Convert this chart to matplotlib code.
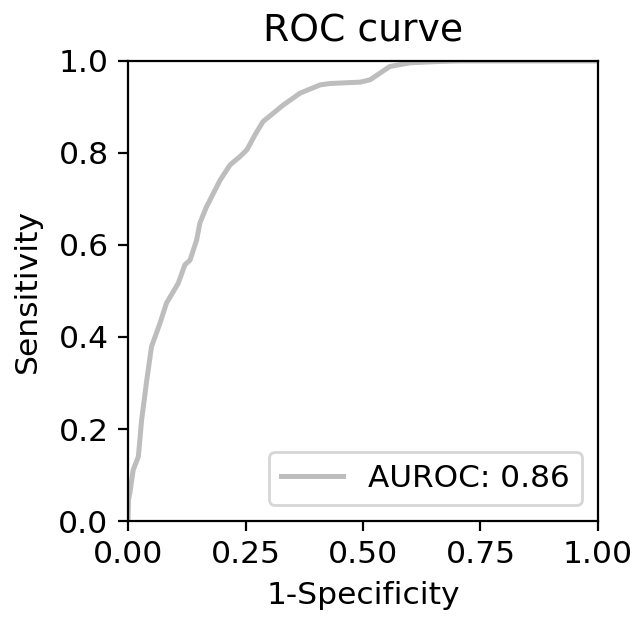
import matplotlib
matplotlib.use("Agg")
import matplotlib.pyplot as plt

# ROC points
fpr = [0.0, 0.001, 0.004, 0.011, 0.022, 0.029, 0.040, 0.050, 0.068, 0.082,
       0.107, 0.121, 0.132, 0.146, 0.153, 0.167, 0.189, 0.196, 0.217, 0.238,
       0.253, 0.270, 0.287, 0.330, 0.366, 0.409, 0.430, 0.494, 0.515, 0.557,
       0.600, 0.664, 0.706, 1.0]
tpr = [0.0, 0.046, 0.061, 0.111, 0.140, 0.220, 0.307, 0.379, 0.430, 0.474,
       0.517, 0.557, 0.567, 0.611, 0.648, 0.683, 0.727, 0.741, 0.774, 0.792,
       0.807, 0.839, 0.868, 0.904, 0.930, 0.948, 0.951, 0.954, 0.959, 0.988,
       0.996, 0.999, 1.0, 1.0]
auroc = 0.86

plt.rcParams["font.size"] = 11.3

fig = plt.figure(figsize=(3.175, 3.095), dpi=200)
ax = fig.add_axes([0.2016, 0.1583, 0.7401, 0.7432])
ax.plot(fpr, tpr, color="#bdbdbd", lw=1.8, label=f"AUROC: {auroc:.2f}")
ax.set_xlim(0, 1)
ax.set_ylim(0, 1)
ax.set_xticks([0, 0.25, 0.5, 0.75, 1.0])
ax.set_yticks([0, 0.2, 0.4, 0.6, 0.8, 1.0])
ax.set_xlabel("1-Specificity")
ax.set_ylabel("Sensitivity", labelpad=6)
ax.set_title("ROC curve", fontsize=13.6, pad=7)
ax.legend(loc="lower right", fontsize=11.2)
fig.savefig("out.png")
plt.close(fig)
